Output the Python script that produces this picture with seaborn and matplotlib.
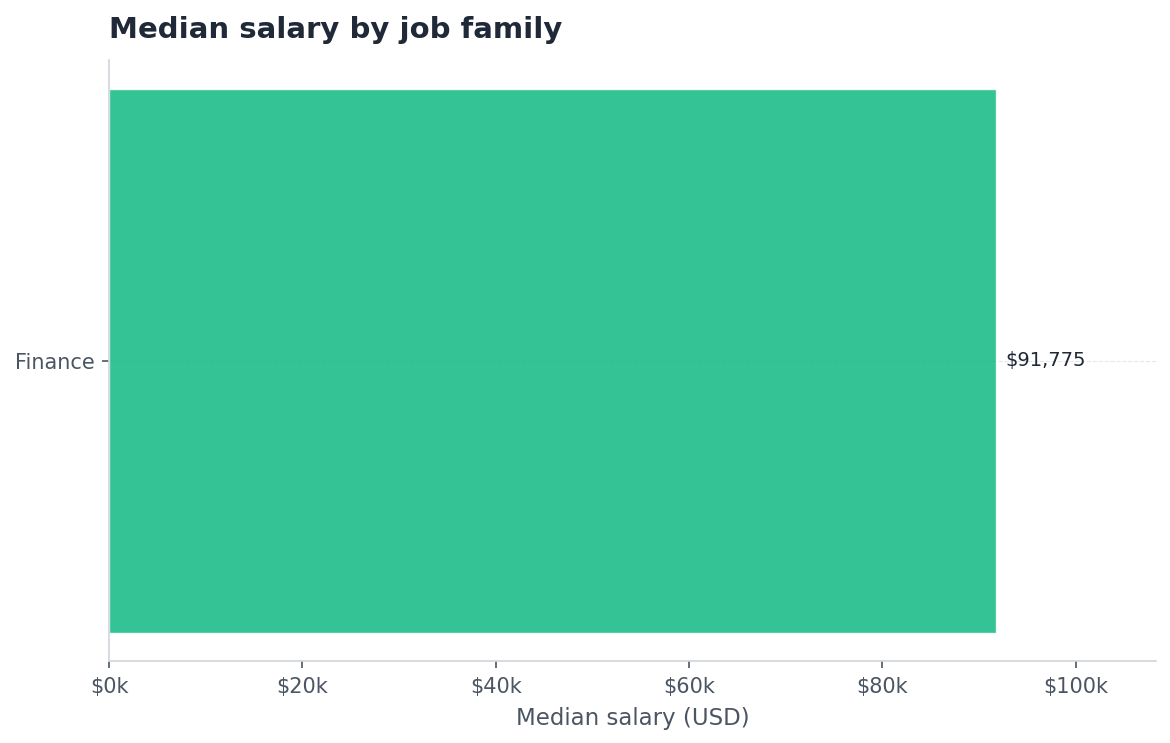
import matplotlib
matplotlib.use("Agg")
import matplotlib.pyplot as plt
import seaborn as sns
import pandas as pd
from matplotlib.ticker import FuncFormatter

# data
job_families = ["Finance"]
median_salary = [91775]

df = pd.DataFrame({"family": job_families, "salary": median_salary})

sns.set_style("ticks")
plt.rcParams["font.family"] = ["DejaVu Sans"]

fig = plt.figure(figsize=(11.7, 7.43), dpi=100)
ax = fig.add_axes([0.0932, 0.110, 0.8948, 0.809])

sns.barplot(data=df, x="salary", y="family", color="#10b981", alpha=0.85,
            width=0.905, saturation=1, ax=ax, zorder=2)

ax.set_xlim(0, max(median_salary) * 1.18)
ax.set_ylim(0.5, -0.5)
ax.xaxis.set_major_formatter(FuncFormatter(lambda v, _: f"${v / 1000:.0f}k"))

for i, v in enumerate(median_salary):
    ax.text(v + max(median_salary) * 0.01, i, f"${v:,.0f}", va="center", ha="left",
            fontsize=14, color="#1f2937", zorder=3)

ax.grid(axis="y", linestyle="--", color="#e5e7eb", linewidth=0.8, zorder=0)
ax.grid(axis="x", visible=False)
ax.set_axisbelow(True)

sns.despine(ax=ax, top=True, right=True)
for side in ["left", "bottom"]:
    ax.spines[side].set_color("#d1d5db")
    ax.spines[side].set_linewidth(1.2)

ax.tick_params(axis="both", labelsize=15, labelcolor="#4b5563", color="#4b5563",
               length=5, width=1.2, bottom=True, left=True)
ax.tick_params(axis="x", pad=6.5)
ax.tick_params(axis="y", pad=5.5)
ax.set_xlabel("Median salary (USD)", fontsize=16.5, color="#4b5563", labelpad=7)
ax.set_ylabel("")
ax.set_title("Median salary by job family", loc="left", fontsize=21,
             fontweight="bold", color="#1f2937", pad=16)

fig.savefig("out.png", dpi=100)
plt.close()
